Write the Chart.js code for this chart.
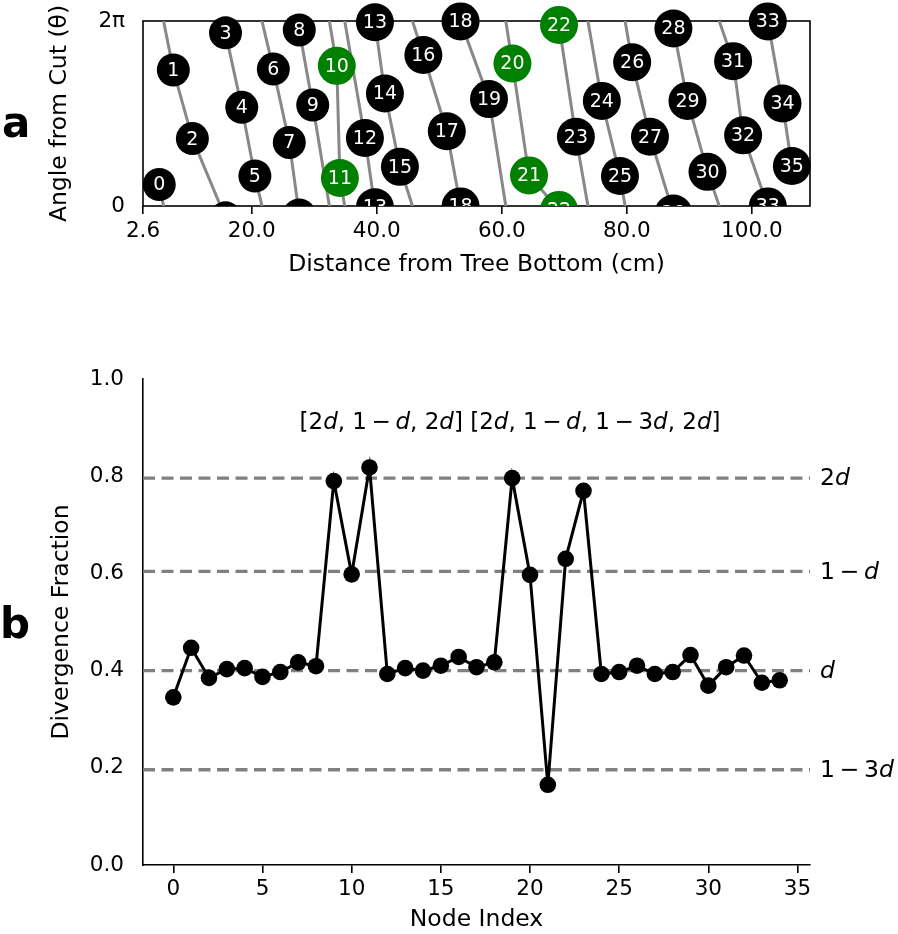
<!DOCTYPE html>
<html><head><meta charset="utf-8">
<script src="https://cdn.jsdelivr.net/npm/chart.js@4.4.1/dist/chart.umd.min.js"></script>
<style>
html,body{margin:0;padding:0;background:#fff;}
#wrap{position:relative;width:898px;height:934px;background:#fff;overflow:hidden;}
canvas{position:absolute;left:0;}
#ca{top:0;} #cb{top:300px;}
</style></head><body>
<div id="wrap"><canvas id="ca" width="898" height="300"></canvas><canvas id="cb" width="898" height="634"></canvas></div>
<script>
// ---------- Panel a data ----------
const nodeLabels = [0,1,2,3,4,5,6,7,8,9,10,11,12,13,14,15,16,17,18,19,20,21,22,23,24,25,26,27,28,29,30,31,32,33,34,35];
const nodeDistance = [5.2,7.45,10.5,15.8,18.4,20.5,23.45,26.0,27.6,29.75,33.6,34.1,38.1,39.7,41.3,43.7,47.45,51.2,53.4,57.95,61.7,64.35,69.15,71.85,76.0,78.9,80.85,83.7,87.45,89.7,92.9,97.0,98.6,102.55,104.9,106.4];
const nodeAngle = [0.73,4.62,2.29,5.88,3.35,1.02,4.65,2.16,5.98,3.43,4.76,0.95,2.31,6.24,3.82,1.33,5.13,2.54,6.27,3.63,4.84,1.04,6.15,2.35,3.57,1.02,4.88,2.35,6.03,3.57,1.16,4.92,2.40,6.27,3.48,1.36];
const greenNodes = [10,11,20,21,22];
const distTicks = [2.6,20,40,60,80,100];
const distTickLabels = ['2.6','20.0','40.0','60.0','80.0','100.0'];
const angleTicks = [0, 2*Math.PI];
const angleTickLabels = ['0','2\u03c0'];

// ---------- Panel b data ----------
const nodeIndex = [0,1,2,3,4,5,6,7,8,9,10,11,12,13,14,15,16,17,18,19,20,21,22,23,24,25,26,27,28,29,30,31,32,33,34];
const divergence = [0.345,0.447,0.385,0.403,0.405,0.387,0.397,0.417,0.409,0.790,0.598,0.818,0.393,0.405,0.400,0.410,0.428,0.407,0.417,0.796,0.597,0.165,0.630,0.770,0.393,0.397,0.410,0.393,0.397,0.432,0.369,0.407,0.431,0.375,0.380];
const refValues = [0.796,0.604,0.400,0.196];
const refLabels = [[['2'],['d',1]], [['1\u2009\u2212\u2009'],['d',1]], [['d',1]], [['1\u2009\u2212\u20093'],['d',1]]];
const indexTicks = [0,5,10,15,20,25,30,35];
const fracTicks = [0,0.2,0.4,0.6,0.8,1.0];
const annotation = [['['],['2'],['d',1],[', 1\u2009\u2212\u2009'],['d',1],[', 2'],['d',1],['] [2'],['d',1],[', 1\u2009\u2212\u2009'],['d',1],[', 1\u2009\u2212\u20093'],['d',1],[', 2'],['d',1],[']']];

const FONT = '"DejaVu Sans", "Liberation Sans", sans-serif';
Chart.defaults.font.family = FONT;
Chart.defaults.color = '#000';
const TWO_PI = 2*Math.PI;

function drawRich(ctx, segs, x, y, align, size){
  const fonts = segs.map(s => (s[1] ? 'italic ' : '') + size + 'px ' + FONT);
  let total = 0; const w = [];
  segs.forEach((s,i)=>{ ctx.font = fonts[i]; const m = ctx.measureText(s[0]).width; w.push(m); total += m; });
  let cx = align === 'center' ? x - total/2 : x;
  ctx.textAlign = 'left'; ctx.textBaseline = 'middle';
  segs.forEach((s,i)=>{ ctx.font = fonts[i]; ctx.fillText(s[0], cx, y); cx += w[i]; });
}

// ---------- Panel a ----------
const nodePoints = nodeDistance.map((x,i)=>({x, y: nodeAngle[i]}));
const copyPoints = [], copyLabels = [];
nodeDistance.forEach((x,i)=>{
  [-TWO_PI, TWO_PI].forEach(sh => { copyPoints.push({x, y: nodeAngle[i]+sh}); copyLabels.push(nodeLabels[i]); });
});
const radiusFor = lab => String(lab).length > 1 ? 19 : 16.5;
const colorFor = lab => greenNodes.includes(lab) ? '#008000' : '#000000';

const dsA = [];
dsA.push({data: nodePoints, nodeLabels: nodeLabels, clip: false, order: 0,
  pointRadius: c => radiusFor(nodeLabels[c.dataIndex]),
  pointBackgroundColor: c => colorFor(nodeLabels[c.dataIndex]),
  pointBorderWidth: 0, showLine: false});
dsA.push({data: copyPoints, nodeLabels: copyLabels, clipLabels: true, clip: 0, order: 1,
  pointRadius: c => radiusFor(copyLabels[c.dataIndex]),
  pointBackgroundColor: c => colorFor(copyLabels[c.dataIndex]),
  pointBorderWidth: 0, showLine: false});
for (let i=0;i<nodeDistance.length-1;i++){
  const t0 = nodeAngle[i], t1 = nodeAngle[i+1];
  const d = (((t0 - t1) % TWO_PI) + TWO_PI) % TWO_PI;
  const end = t0 - d;
  [0, TWO_PI].forEach(sh => {
    if (sh > 0 && end >= 0) return;
    dsA.push({data:[{x:nodeDistance[i], y:t0+sh},{x:nodeDistance[i+1], y:end+sh}],
      showLine:true, borderColor:'#888888', borderWidth:3, pointRadius:0, clip:0, order:5});
  });
}

const nodeLabelPlugin = {
  id:'nodeLabels',
  afterDatasetsDraw(chart){
    const ctx = chart.ctx, ca = chart.chartArea;
    chart.data.datasets.forEach((ds, di)=>{
      if (!ds.nodeLabels) return;
      const meta = chart.getDatasetMeta(di);
      ctx.save();
      if (ds.clipLabels){ ctx.beginPath(); ctx.rect(ca.left, ca.top, ca.right-ca.left, ca.bottom-ca.top); ctx.clip(); }
      ctx.fillStyle = '#fff'; ctx.font = '19px ' + FONT; ctx.textAlign = 'center'; ctx.textBaseline = 'middle';
      meta.data.forEach((el, j)=>{ ctx.fillText(String(ds.nodeLabels[j]), el.x, el.y + 1); });
      ctx.restore();
    });
  }
};
const boxPlugin = {
  id:'box',
  beforeDatasetsDraw(chart){
    const ctx = chart.ctx, ca = chart.chartArea;
    ctx.save(); ctx.strokeStyle = '#000'; ctx.lineWidth = 1.6;
    ctx.strokeRect(ca.left, ca.top, ca.right-ca.left, ca.bottom-ca.top);
    ctx.restore();
  }
};
const letterPlugin = (letter, x, y) => ({
  id:'letter'+letter,
  afterDraw(chart){
    const ctx = chart.ctx; ctx.save();
    ctx.fillStyle = '#000'; ctx.font = 'bold 42px ' + FONT; ctx.textAlign = 'left'; ctx.textBaseline = 'alphabetic';
    ctx.fillText(letter, x, y); ctx.restore();
  }
});
const fitY = w => s => { s.width = w; s.paddingTop = 0; s.paddingBottom = 0; };

new Chart(document.getElementById('ca'), {
  type:'scatter',
  data:{datasets: dsA},
  options:{
    responsive:false, animation:false, devicePixelRatio:1, events:[],
    layout:{padding:{top:21, right:88, left:0, bottom:0}},
    plugins:{legend:{display:false}, tooltip:{enabled:false}},
    scales:{
      x:{type:'linear', min:2.6, max:109.3,
        afterBuildTicks: s => { s.ticks = distTicks.map(v=>({value:v})); },
        afterFit: s => { s.height = 94; },
        ticks:{font:{size:21.5}, padding:5, maxRotation:0, autoSkip:false,
          callback:(v,i)=>distTickLabels[i]},
        grid:{display:true, drawOnChartArea:false, drawTicks:true, tickLength:8, color:'#000', lineWidth:1.6},
        border:{display:false},
        title:{display:true, text:'Distance from Tree Bottom (cm)', font:{size:23.5}, padding:{top:0, bottom:21}}
      },
      y:{type:'linear', min:0, max:TWO_PI,
        afterBuildTicks: s => { s.ticks = angleTicks.map(v=>({value:v})); },
        afterFit: fitY(143),
        ticks:{font:{size:21.5}, padding:0, autoSkip:false, callback:(v,i)=>angleTickLabels[i]},
        grid:{display:false, drawTicks:true, tickLength:18},
        border:{display:false},
        title:{display:true, text:'Angle from Cut (\u03b8)', font:{size:23.5}, padding:{top:46, bottom:0}}
      }
    }
  },
  plugins:[boxPlugin, nodeLabelPlugin, letterPlugin('a', 2, 137)]
});

// ---------- Panel b ----------
const xMinB = -1.7, xMaxB = 35.7;
const dsB = [];
dsB.push({data: divergence.map((v,i)=>({x:nodeIndex[i], y:v})), showLine:true,
  borderColor:'#000', borderWidth:3, pointRadius:8.3, pointBackgroundColor:'#000', pointBorderWidth:0, order:0, clip:false});
refValues.forEach(v => {
  dsB.push({data:[{x:xMinB, y:v},{x:xMaxB, y:v}], showLine:true, borderColor:'#808080', borderWidth:3.3,
    borderDash:[12,6.5], pointRadius:0, order:2});
});
const refLabelPlugin = {
  id:'refLabels',
  afterDraw(chart){
    const ctx = chart.ctx, ca = chart.chartArea, ys = chart.scales.y;
    ctx.save(); ctx.fillStyle = '#000';
    refValues.forEach((v,i)=>{ drawRich(ctx, refLabels[i], ca.right + 10, ys.getPixelForValue(v) + 1, 'left', 23.5); });
    drawRich(ctx, annotation, 510, 123, 'center', 23);
    ctx.restore();
  }
};

new Chart(document.getElementById('cb'), {
  type:'scatter',
  data:{datasets: dsB},
  options:{
    responsive:false, animation:false, devicePixelRatio:1, events:[],
    layout:{padding:{top:79, right:88, left:0, bottom:0}},
    plugins:{legend:{display:false}, tooltip:{enabled:false}},
    scales:{
      x:{type:'linear', min:xMinB, max:xMaxB,
        afterBuildTicks: s => { s.ticks = indexTicks.map(v=>({value:v})); },
        afterFit: s => { s.height = 69; },
        ticks:{font:{size:21.5}, padding:4, maxRotation:0, autoSkip:false, callback:v=>String(v)},
        grid:{display:true, drawOnChartArea:false, drawTicks:true, tickLength:8, color:'#000', lineWidth:1.6},
        border:{display:true, color:'#000', width:1.6},
        title:{display:true, text:'Node Index', font:{size:23.5}, padding:{top:0, bottom:0}}
      },
      y:{type:'linear', min:0, max:1,
        afterBuildTicks: s => { s.ticks = fracTicks.map(v=>({value:v})); },
        afterFit: fitY(143),
        ticks:{font:{size:21.5}, padding:0, autoSkip:false, callback:v=>Number(v).toFixed(1)},
        grid:{display:false, drawTicks:true, tickLength:19},
        border:{display:true, color:'#000', width:1.6},
        title:{display:true, text:'Divergence Fraction', font:{size:23.5}, padding:{top:48, bottom:0}}
      }
    }
  },
  plugins:[refLabelPlugin, letterPlugin('b', 0, 338)]
});
</script>
</body></html>
